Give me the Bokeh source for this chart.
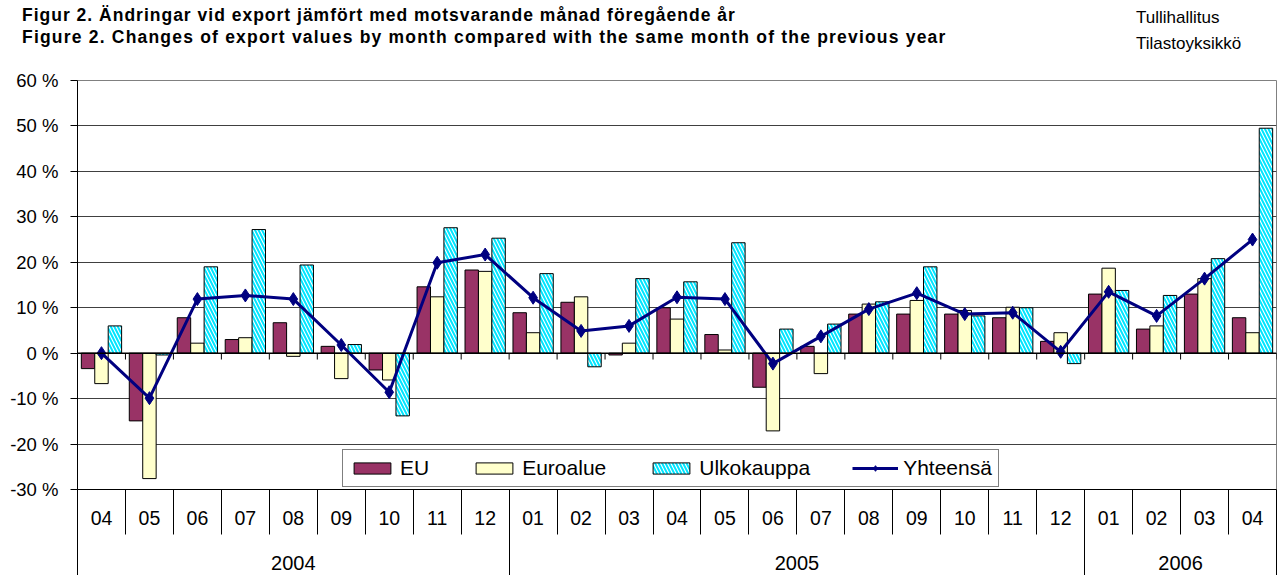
from bokeh.plotting import figure
from bokeh.layouts import column
from bokeh.models import (Range1d, LinearAxis, FixedTicker, CustomJSTickFormatter,
                          PrintfTickFormatter, ColumnDataSource, Span, Div)
from bokeh.transform import dodge
from bokeh.embed import file_html
from bokeh.resources import INLINE

# ---------------- data ----------------
year_labels = ["2004", "2005", "2006"]
year_months = [9, 12, 4]
months = ["04", "05", "06", "07", "08", "09", "10", "11", "12",
          "01", "02", "03", "04", "05", "06", "07", "08", "09", "10", "11", "12",
          "01", "02", "03", "04"]
eu = [-3.4, -14.9, 7.8, 3.0, 6.7, 1.5, -3.7, 14.6, 18.3,
      8.9, 11.2, -0.4, 10.0, 4.1, -7.5, 1.5, 8.6, 8.6, 8.6, 7.8, 2.6,
      13.0, 5.3, 13.0, 7.8]
euroalue = [-6.7, -27.6, 2.2, 3.4, -0.7, -5.6, -5.9, 12.4, 18.0,
            4.5, 12.4, 2.2, 7.5, 0.7, -17.1, -4.5, 10.8, 11.6, 9.4, 10.1, 4.5,
            18.7, 6.0, 16.4, 4.5]
ulkokauppa = [6.0, -0.4, 19.0, 27.2, 19.4, 1.9, -13.8, 27.6, 25.3,
              17.5, -3.0, 16.4, 15.7, 24.3, 5.3, 6.4, 11.3, 19.0, 8.2, 10.0, -2.3,
              13.8, 12.7, 20.8, 49.5]
yhteensa = [0.0, -9.9, 11.9, 12.7, 11.9, 1.8, -8.6, 19.9, 21.7,
            12.2, 4.9, 6.0, 12.3, 11.9, -2.3, 3.7, 9.7, 13.2, 8.6, 8.9, 0.3,
            13.5, 8.2, 16.4, 25.0]
y_ticks = [-30, -20, -10, 0, 10, 20, 30, 40, 50, 60]

title1 = "Figur 2. Ändringar vid export jämfört med motsvarande månad föregående år"
title2 = "Figure 2. Changes of export values by month compared with the same month of the previous year"
src1 = "Tullihallitus"
src2 = "Tilastoyksikkö"

# ---------------- derived ----------------
n_cat = len(months)
centers = [i + 0.5 for i in range(n_cat)]
bounds = list(range(n_cat + 1))
year_bounds = [0]
for n in year_months:
    year_bounds.append(year_bounds[-1] + n)
year_centers = [(a + b) / 2 for a, b in zip(year_bounds[:-1], year_bounds[1:])]

src = ColumnDataSource(dict(x=centers, eu=eu, euro=euroalue, ulko=ulkokauppa, yht=yhteensa))

FONT = "Liberation Sans"
HEADER_H = 68

# ---------------- header (titles) ----------------
def span(txt, left, top, size, bold, spacing=0.0):
    return (f'<span style="position:absolute;left:{left}px;top:{top}px;white-space:nowrap;'
            f'font-family:\'{FONT}\';font-size:{size}px;line-height:{size}px;'
            f'letter-spacing:{spacing}px;'
            f'font-weight:{"bold" if bold else "normal"};color:#000;">{txt}</span>')

header_html = ('<div style="position:relative;width:1282px;height:%dpx;">' % HEADER_H
               + span(title1, 22, 6.5, 17.5, True, 1.0)
               + span(title2, 22, 29, 17.5, True, 1.2)
               + span(src1, 1136, 9, 17, False)
               + span(src2, 1136, 34.5, 17, False)
               + '</div>')
header = Div(text=header_html, width=1282, height=HEADER_H, margin=0)

# ---------------- figure ----------------
p = figure(width=1282, height=575 - HEADER_H,
           x_range=Range1d(0, n_cat),
           y_range=Range1d(-30, 60),
           output_backend="svg", toolbar_location=None,
           x_axis_location=None, margin=0,
           min_border_left=77, min_border_right=6, min_border_top=80 - HEADER_H,
           min_border_bottom=86)

p.outline_line_color = "#808080"
p.outline_line_width = 1
p.background_fill_color = "white"
p.border_fill_color = "white"

# y axis
p.yaxis.ticker = FixedTicker(ticks=y_ticks)
p.yaxis.formatter = PrintfTickFormatter(format="%d %%")
p.yaxis.major_label_text_font = FONT
p.yaxis.major_label_text_font_size = "18.5px"
p.yaxis.major_label_text_color = "black"
p.yaxis.major_tick_out = 7
p.yaxis.major_tick_in = 0
p.yaxis.minor_tick_line_color = None
p.yaxis.axis_line_color = "black"
p.yaxis.major_tick_line_color = "black"
p.yaxis.major_label_standoff = 12

p.xgrid.grid_line_color = None
p.ygrid.ticker = FixedTicker(ticks=y_ticks[1:-1])
p.ygrid.grid_line_color = "#404040"
p.ygrid.grid_line_width = 1

# month axis
ax_m = LinearAxis(ticker=FixedTicker(ticks=centers, minor_ticks=bounds),
                  formatter=CustomJSTickFormatter(args=dict(labels=months),
                                                  code="return labels[Math.floor(tick)]"))
ax_m.axis_line_color = "black"
ax_m.major_tick_line_color = None
ax_m.major_tick_out = 0
ax_m.major_tick_in = 0
ax_m.minor_tick_out = 45
ax_m.minor_tick_in = 0
ax_m.minor_tick_line_color = "black"
ax_m.major_label_standoff = -24
ax_m.major_label_text_font = FONT
ax_m.major_label_text_font_size = "19.5px"
ax_m.major_label_text_color = "black"
p.add_layout(ax_m, "below")

# year axis
ax_y = LinearAxis(ticker=FixedTicker(ticks=year_centers, minor_ticks=year_bounds),
                  formatter=CustomJSTickFormatter(
                      args=dict(pos=year_centers, labs=year_labels),
                      code="let b=0; for (let i=0;i<pos.length;i++){ if (Math.abs(pos[i]-tick)<Math.abs(pos[b]-tick)) b=i; } return labs[b];"))
ax_y.axis_line_color = None
ax_y.major_tick_line_color = None
ax_y.major_tick_out = 0
ax_y.major_tick_in = 0
ax_y.minor_tick_out = 50
ax_y.minor_tick_in = 0
ax_y.minor_tick_line_color = "black"
ax_y.major_label_standoff = -22
ax_y.major_label_text_font = FONT
ax_y.major_label_text_font_size = "20px"
ax_y.major_label_text_color = "black"
p.add_layout(ax_y, "below")

# bars
bw = 0.28
p.vbar(x=dodge("x", -bw), top="eu", width=bw, source=src,
       fill_color="#993366", line_color="black", line_width=1, legend_label="EU")
p.vbar(x=dodge("x", 0), top="euro", width=bw, source=src,
       fill_color="#FFFFCC", line_color="black", line_width=1, legend_label="Euroalue")
p.vbar(x=dodge("x", bw), top="ulko", width=bw, source=src,
       fill_color="white", hatch_pattern="left_diagonal_line", hatch_color="#00E5FF",
       hatch_weight=2, hatch_scale=7, line_color="black", line_width=1,
       legend_label="Ulkokauppa")

# zero axis line with small category ticks
p.add_layout(Span(location=0, dimension="width", line_color="black", line_width=1.5))
p.segment(x0=bounds[1:], x1=bounds[1:], y0=[0] * n_cat, y1=[-1.4] * n_cat,
          line_color="black", line_width=1)

# total line
p.line(x="x", y="yht", source=src, line_color="#000080", line_width=3, legend_label="Yhteensä")
p.scatter(x="x", y="yht", source=src, marker="diamond", size=13,
          fill_color="#000080", line_color="#000080", legend_label="Yhteensä")

# legend
lg = p.legend[0]
lg.orientation = "horizontal"
lg.location = (265, 2)
lg.margin = 0
lg.padding = 6
lg.spacing = 42
lg.glyph_width = 46
lg.glyph_height = 14
lg.label_standoff = 5
lg.label_text_font = FONT
lg.label_text_font_size = "21px"
lg.label_text_color = "black"
lg.border_line_color = "black"
lg.border_line_width = 1
lg.background_fill_color = "white"
lg.background_fill_alpha = 1

layout = column(header, p, spacing=0, margin=0)
open("out.html", "w").write(file_html(layout, INLINE))
